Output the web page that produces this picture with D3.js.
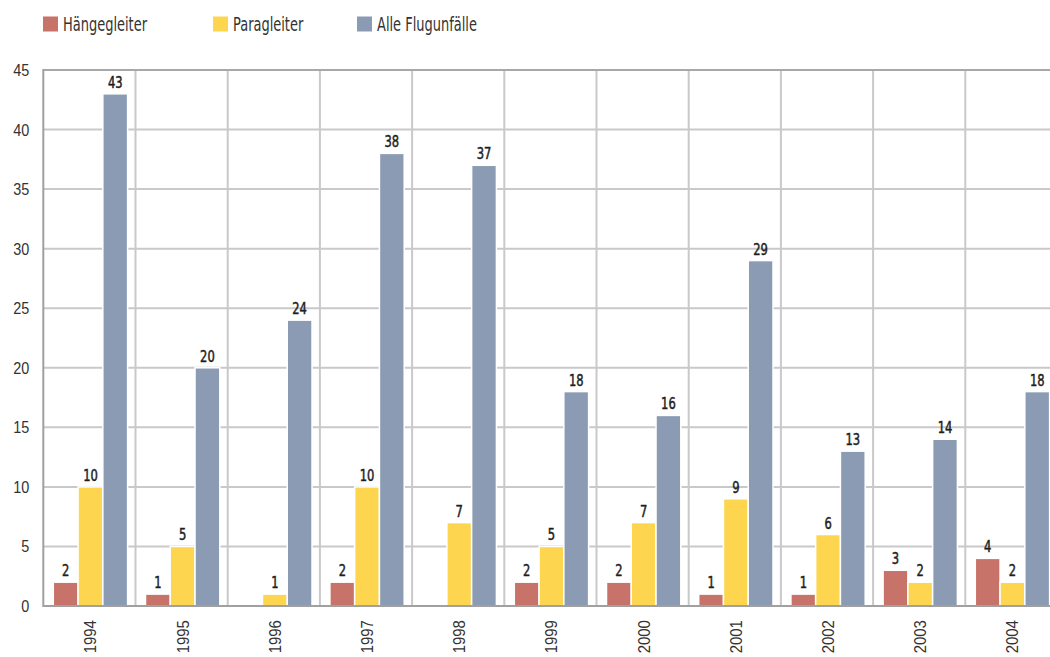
<!DOCTYPE html>
<html><head><meta charset="utf-8">
<script src="https://cdn.jsdelivr.net/npm/d3@7"></script>
<style>
body{margin:0;background:#fff;}
svg{display:block;font-family:"DejaVu Sans Condensed","Liberation Sans",sans-serif;}
</style></head><body>
<svg id="c" width="1050" height="657"></svg>
<script>
const years = ["1994","1995","1996","1997","1998","1999","2000","2001","2002","2003","2004"];
const seriesNames = ["Hängegleiter","Paragleiter","Alle Flugunfälle"];
const haengegleiter = [2,1,0,2,0,2,2,1,1,3,4];
const paragleiter = [10,5,1,10,7,5,7,9,6,2,2];
const alleFlugunfaelle = [43,20,24,38,37,18,16,29,13,14,18];
const yTicks = [0,5,10,15,20,25,30,35,40,45];
const colors = ["#c8736a","#fdd54f","#8a9bb3"];
const seriesValues = [haengegleiter, paragleiter, alleFlugunfaelle];

const svg = d3.select("#c");
const pLeft = 43.3, pTop = 70, pBottom = 606, step = 92.2;
const x0 = d3.scaleBand().domain(years).range([pLeft, pLeft + step*years.length]).padding(0);
const x1 = d3.scaleBand().domain(seriesNames).range([10, 84.3]).padding(0);
const y = d3.scaleLinear().domain([0,45]).range([pBottom, pTop]);

// horizontal grid
svg.append("g").selectAll("line").data(yTicks.filter(t=>t>0 && t<45)).join("line")
  .attr("x1", pLeft).attr("x2", 1050).attr("y1", d=>y(d)).attr("y2", d=>y(d))
  .attr("stroke","#c9c9c9").attr("stroke-width",2);
// vertical grid
svg.append("g").selectAll("line").data(years.slice(1)).join("line")
  .attr("x1", d=>x0(d)).attr("x2", d=>x0(d)).attr("y1", pTop).attr("y2", pBottom)
  .attr("stroke","#c9c9c9").attr("stroke-width",2);
// top border
svg.append("line").attr("x1",pLeft).attr("x2",1050).attr("y1",y(45)).attr("y2",y(45))
  .attr("stroke","#a8a8a8").attr("stroke-width",2);

// bars
const data = [];
years.forEach((yr,i)=>seriesNames.forEach((s,j)=>data.push({yr, s, j, v: seriesValues[j][i]})));
svg.append("g").selectAll("rect").data(data.filter(d=>d.v>0)).join("rect")
  .attr("x", d=>x0(d.yr)+x1(d.s))
  .attr("width", x1.bandwidth())
  .attr("y", d=>y(d.v))
  .attr("height", d=>pBottom - y(d.v))
  .attr("fill", d=>colors[d.j])
  .attr("stroke","#fff").attr("stroke-width",1.5);

// value labels
svg.append("g").selectAll("text").data(data.filter(d=>d.v>0)).join("text")
  .attr("transform", d=>`translate(${x0(d.yr)+x1(d.s)+x1.bandwidth()/2},${y(d.v)-6}) scale(0.8,1)`)
  .attr("text-anchor","middle")
  .attr("font-size",16).attr("fill","#1e1e1e")
  .attr("stroke","#1e1e1e").attr("stroke-width",0.5)
  .text(d=>d.v);

// left axis & bottom axis lines
svg.append("line").attr("x1",pLeft).attr("x2",pLeft).attr("y1",pTop-1).attr("y2",pBottom+1)
  .attr("stroke","#a0a0a0").attr("stroke-width",2);
svg.append("line").attr("x1",pLeft).attr("x2",1050).attr("y1",pBottom).attr("y2",pBottom)
  .attr("stroke","#a0a0a0").attr("stroke-width",2);

// y axis labels
const yAxis = d3.axisLeft(y).tickValues(yTicks).tickSize(0).tickPadding(0);
const ya = svg.append("g").attr("transform",`translate(${pLeft-14},0)`).call(yAxis);
ya.select(".domain").remove();
ya.selectAll("text").attr("font-size",17).attr("fill","#333").attr("font-family","inherit")
  .attr("transform","scale(0.85,1)");

// x labels
const xAxis = d3.axisBottom(x0).tickSize(0).tickPadding(0);
const xa = svg.append("g").attr("transform",`translate(0,${pBottom})`).call(xAxis);
xa.select(".domain").remove();
xa.selectAll("text")
  .attr("font-size",17).attr("fill","#333").attr("font-family","inherit")
  .attr("transform","rotate(-90) scale(0.88,1)")
  .attr("text-anchor","end").attr("x",-16).attr("y",1).attr("dy","0.35em");

// legend
const legX = [43, 213, 357];
const lg = svg.append("g").selectAll("g").data(seriesNames).join("g")
  .attr("transform",(d,i)=>`translate(${legX[i]},16.5)`);
lg.append("rect").attr("width",15).attr("height",15).attr("fill",(d,i)=>colors[i]);
lg.append("text").attr("transform","translate(20,14.5) scale(0.76,1)")
  .attr("font-size",19).attr("fill","#333").text(d=>d);
</script>
</body></html>
